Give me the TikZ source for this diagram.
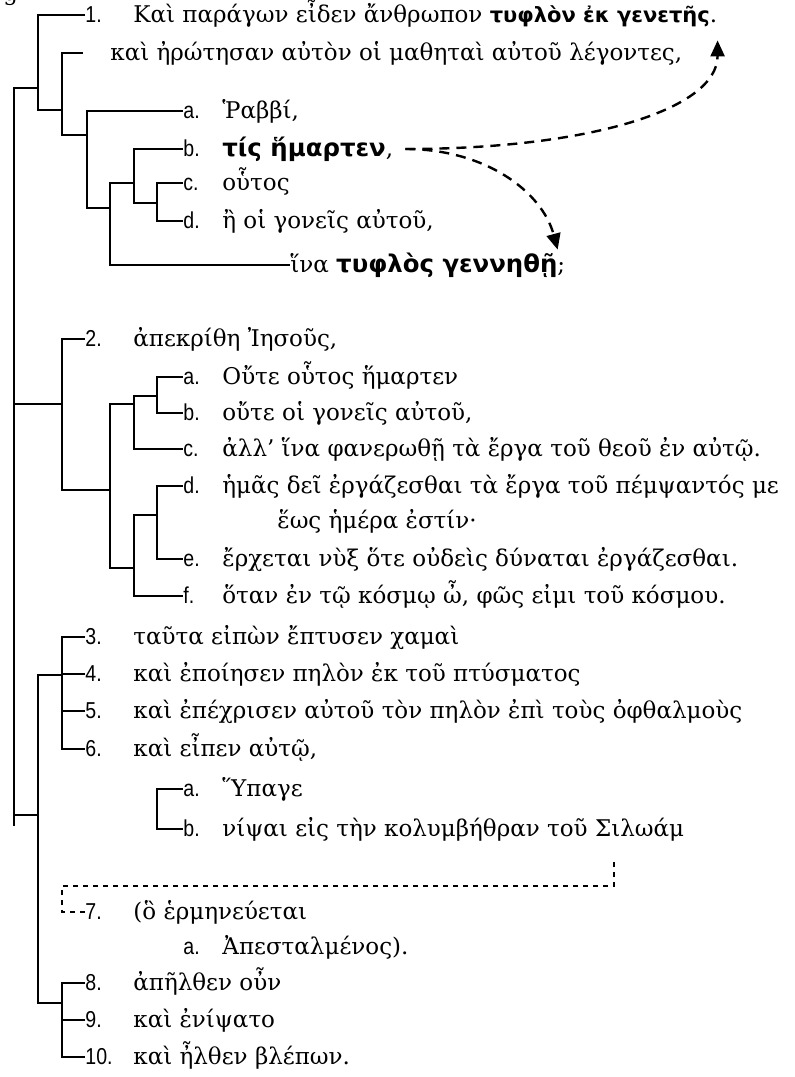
\documentclass[tikz,border=0pt]{standalone}
\usepackage{fontspec}
\setmainfont{DejaVu Serif}
\newfontfamily\bsans{DejaVu Sans}
\newfontfamily\labfont{Liberation Sans}[FakeStretch=0.85]
\usetikzlibrary{arrows.meta}
\tikzset{
  br/.style={line width=1.1pt},
  lab/.style={anchor=base west,inner sep=0pt,text height=7pt,text depth=0pt,font=\labfont\fontsize{11.5}{13}\selectfont},
  txt/.style={anchor=base west,inner sep=0pt,text height=7pt,text depth=0pt,font=\fontsize{11.5}{14}\selectfont},
  refarrow/.style={line width=1.2pt,dash pattern=on 5pt off 3.5pt,-{Triangle[length=8pt,width=7pt]}},
  dashbox/.style={line width=.7pt,dash pattern=on 2.5pt off 2.5pt}
}
\newcommand\bgk[1]{{\bsans\bfseries\fontsize{12.2}{14}\selectfont #1}}

\begin{document}
\begin{tikzpicture}[x=.5pt,y=-.5pt]
\useasboundingbox (0,0) rectangle (795,1077);
\node[txt] (cut) at (3,0) {g};
\foreach\k/\y in{1/22,2/346,3/644,4/681,5/718,6/756,7/919,8/990,9/1027,10/1064}\node[lab] (n\k) at (85,\y) {\k.};
\foreach\k/\c/\y in{1a/a/118,1b/b/156,1c/c/190,1d/d/228,2a/a/384,2b/b/420,2c/c/456,2d/d/493,2e/e/566,2f/f/603,6a/a/796,6b/b/836,7a/a/954}\node[lab] (l\k) at (183,\y) {\c.};

\node[txt] (t1) at (133,22) {Καὶ παράγων εἶδεν ἄνθρωπον {\bsans\bfseries\fontsize{10.5}{12}\selectfont τυφλὸν ἐκ γενετῆς}.};
\node[txt] (t1q) at (110,60) {καὶ ἠρώτησαν αὐτὸν οἱ μαθηταὶ αὐτοῦ λέγοντες,};
\node[txt] (t1a) at (222,118) {Ῥαββί,};
\node[txt] (t1b) at (222,156) {\bgk{τίς ἥμαρτεν},};
\node[txt] (t1c) at (222,190) {οὗτος};
\node[txt] (t1d) at (222,228) {ἢ οἱ γονεῖς αὐτοῦ,};
\node[txt] (t1ina) at (290,272) {ἵνα \bgk{τυφλὸς γεννηθῇ};};

\node[txt] (t2) at (133,346) {ἀπεκρίθη Ἰησοῦς,};
\node[txt] (t2a) at (222,384) {Οὔτε οὗτος ἥμαρτεν};
\node[txt] (t2b) at (222,420) {οὔτε οἱ γονεῖς αὐτοῦ,};
\node[txt] (t2c) at (222,456) {ἀλλ’ ἵνα φανερωθῇ τὰ ἔργα τοῦ θεοῦ ἐν αὐτῷ.};
\node[txt] (t2d) at (222,493) {ἡμᾶς δεῖ ἐργάζεσθαι τὰ ἔργα τοῦ πέμψαντός με};
\node[txt] (t2heos) at (277,528) {ἕως ἡμέρα ἐστίν·};
\node[txt] (t2e) at (222,566) {ἔρχεται νὺξ ὅτε οὐδεὶς δύναται ἐργάζεσθαι.};
\node[txt] (t2f) at (222,603) {ὅταν ἐν τῷ κόσμῳ ὦ, φῶς εἰμι τοῦ κόσμου.};

\node[txt] (t3) at (133,644) {ταῦτα εἰπὼν ἔπτυσεν χαμαὶ};
\node[txt] (t4) at (133,681) {καὶ ἐποίησεν πηλὸν ἐκ τοῦ πτύσματος};
\node[txt] (t5) at (133,718) {καὶ ἐπέχρισεν αὐτοῦ τὸν πηλὸν ἐπὶ τοὺς ὀφθαλμοὺς};
\node[txt] (t6) at (133,756) {καὶ εἶπεν αὐτῷ,};
\node[txt] (t6a) at (222,796) {Ὕπαγε};
\node[txt] (t6b) at (222,836) {νίψαι εἰς τὴν κολυμβήθραν τοῦ Σιλωάμ};
\node[txt] (t7) at (133,919) {(ὃ ἑρμηνεύεται};
\node[txt] (t7a) at (222,954) {Ἀπεσταλμένος).};
\node[txt] (t8) at (133,990) {ἀπῆλθεν οὖν};
\node[txt] (t9) at (133,1027) {καὶ ἐνίψατο};
\node[txt] (t10) at (133,1064) {καὶ ἦλθεν βλέπων.};

\coordinate (q1) at (83,53);
\coordinate (j1cd) at (157,203);\coordinate (j1bcd) at (134,183);\coordinate (j1y) at (110,208);
\coordinate (j1ay) at (87,135);\coordinate (j1q) at (62,110);\coordinate (j1) at (38,88);
\draw[br] (l1c.west) -| (j1cd) |- (l1d.west);
\draw[br] (l1b.west) -| (j1bcd) |- (j1cd);
\draw[br] (j1bcd) -| (j1y) |- (t1ina.west);
\draw[br] (l1a.west) -| (j1ay) |- (j1y);
\draw[br] (q1) -| (j1q) |- (j1ay);
\draw[br] (n1.west) -| (j1) |- (j1q);

\coordinate (j2ab) at (157,396);\coordinate (j2abc) at (134,404);\coordinate (j2de) at (157,515);
\coordinate (j2def) at (134,568);\coordinate (j2x) at (110,490);\coordinate (j2) at (62,404);
\draw[br] (l2a.west) -| (j2ab) |- (l2b.west);
\draw[br] (j2ab) -| (j2abc) |- (l2c.west);
\draw[br] (l2d.west) -| (j2de) |- (l2e.west);
\draw[br] (j2de) -| (j2def) |- (l2f.west);
\draw[br] (j2abc) -| (j2x) |- (j2def);
\draw[br] (n2.west) -| (j2) |- (j2x);

\coordinate (j3a) at (62,675);\coordinate (j3b) at (62,1003);\coordinate (j3) at (38,815);\coordinate (j6ab) at (157,812);
\draw[br] (n3.west) -| (j3a) |- (n6.west);
\draw[br] (n4.west) -- (n4.west -| j3a);\draw[br] (n5.west) -- (n5.west -| j3a);
\draw[br] (l6a.west) -| (j6ab) |- (l6b.west);
\draw[br] (n8.west) -| (j3b) |- (n10.west);
\draw[br] (n9.west) -- (n9.west -| j3b);
\draw[br] (j3a) -| (j3) |- (j3b);

\coordinate (sp) at (14,826);
\draw[br] (j1) -| (sp);\draw[br] (j2) -- (j2 -| sp);\draw[br] (j3) -- (j3 -| sp);

\coordinate (d1) at (62,886);\coordinate (d2) at (614,886);\coordinate (d3) at (614,862);
\draw[dashbox] (n7.west) -| (d1) -- (d2) -- (d3);

\draw[refarrow] ([xshift=6pt]t1b.east) .. controls +(0:90pt) and +(-90:35pt) .. ([yshift=-9pt]t1.south east);
\draw[refarrow] ([xshift=6pt]t1b.east) .. controls +(0:40pt) and +(105:30pt) .. ([xshift=-4pt,yshift=4pt]t1ina.north east);
\end{tikzpicture}
\end{document}
